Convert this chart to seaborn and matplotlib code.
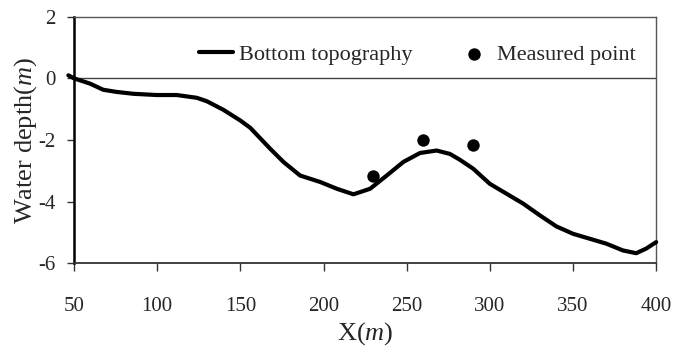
import matplotlib
matplotlib.use("Agg")
import matplotlib.pyplot as plt
import seaborn as sns
import pandas as pd

# Bottom profile along the section
x_bottom = [46.6, 50, 59.6, 67.6, 75.7, 85.7, 99.7, 111.8, 123.8, 129.8, 139.8, 149.8,
            155.9, 161.9, 167.9, 175.9, 185.9, 198, 208, 218, 228, 238, 248, 258,
            268, 276, 282, 290, 300, 310, 320, 330, 340, 350, 360, 370, 380, 388,
            394, 400]
z_bottom = [0.1, 0.0, -0.17, -0.37, -0.44, -0.50, -0.54, -0.54, -0.63, -0.74, -1.02, -1.36,
            -1.60, -1.94, -2.28, -2.71, -3.15, -3.36, -3.58, -3.76, -3.58, -3.15, -2.71, -2.42,
            -2.34, -2.45, -2.64, -2.93, -3.42, -3.74, -4.06, -4.44, -4.80, -5.04, -5.20, -5.36, -5.58, -5.67,
            -5.52, -5.31]

# Measured depths
x_meas = [230, 260, 290]
z_meas = [-3.18, -2.01, -2.17]

x_ticks = [50, 100, 150, 200, 250, 300, 350, 400]
y_ticks = [-6, -4, -2, 0, 2]

sns.set_theme(style="white")
plt.rcParams["font.family"] = ["Liberation Serif", "DejaVu Serif"]
plt.rcParams["mathtext.fontset"] = "custom"
plt.rcParams["mathtext.rm"] = "Liberation Serif"
plt.rcParams["mathtext.it"] = "Liberation Serif:italic"
plt.rcParams["axes.unicode_minus"] = False

fig = plt.figure(figsize=(6.73, 3.51), dpi=100)
ax = fig.add_axes([0.110, 0.2496, 0.865, 0.7028])

bottom_df = pd.DataFrame({"x": x_bottom, "z": z_bottom})
meas_df = pd.DataFrame({"x": x_meas, "z": z_meas})

sns.lineplot(data=bottom_df, x="x", y="z", ax=ax, color="black", linewidth=3.0,
             sort=False, label="Bottom topography", clip_on=False, zorder=3,
             solid_joinstyle="round", solid_capstyle="round")
sns.scatterplot(data=meas_df, x="x", y="z", ax=ax, color="black", s=80,
                edgecolor="black", linewidth=0, label="Measured point", zorder=4)

ax.axhline(0, color="#444444", linewidth=1.0, zorder=1)

ax.set_xlim(50, 400)
ax.set_ylim(-6, 2)
ax.set_xticks(x_ticks)
ax.set_yticks(y_ticks)
ax.set_xticklabels([str(v) for v in x_ticks])
ax.set_yticklabels([str(v) for v in y_ticks])

ax.tick_params(axis="x", direction="out", length=5.5, width=1.0, color="#333333",
               labelsize=15, pad=19, bottom=True)
ax.tick_params(axis="y", direction="out", length=5, width=1.0, color="#333333",
               labelsize=15, pad=8, left=True)

ax.set_xlabel("X($\\it{m}$)", fontsize=19, labelpad=3)
ax.set_ylabel("Water depth($\\it{m}$)", fontsize=19, labelpad=0)

for side in ["top", "right"]:
    ax.spines[side].set_color("#555555")
    ax.spines[side].set_linewidth(1.0)
ax.spines["left"].set_color("black")
ax.spines["left"].set_linewidth(1.8)
ax.spines["bottom"].set_color("#333333")
ax.spines["bottom"].set_linewidth(1.3)

ax.legend(loc="center left", bbox_to_anchor=(0.215, 0.845), ncol=2, frameon=False,
          fontsize=16, handlelength=1.5, handletextpad=0.3, columnspacing=2.0,
          borderpad=0, borderaxespad=0)

fig.savefig("out.png", dpi=100)
